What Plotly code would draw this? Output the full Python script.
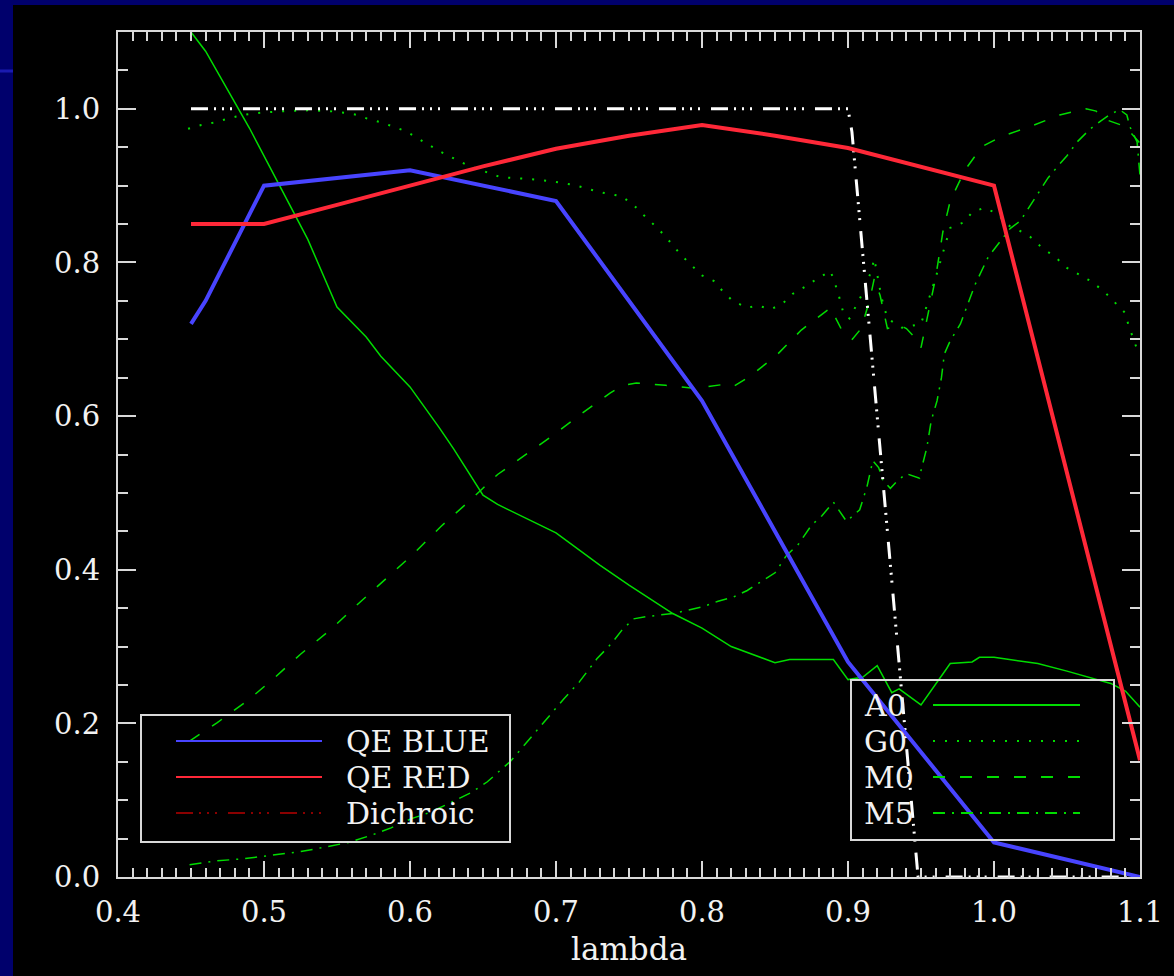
import plotly.graph_objects as go

# ---------------- data ----------------
wl_qe = [0.45, 0.46, 0.50, 0.60, 0.70, 0.80, 0.90, 1.00, 1.10]
qe_blue = [0.72, 0.75, 0.90, 0.92, 0.88, 0.62, 0.28, 0.045, 0.0]

wl_red = [0.45, 0.50, 0.55, 0.60, 0.65, 0.70, 0.75, 0.80, 0.85, 0.90, 0.95, 1.00, 1.10]
qe_red = [0.85, 0.85, 0.875, 0.90, 0.925, 0.948, 0.965, 0.979, 0.965, 0.949, 0.925, 0.90, 0.152]

dich_x = [0.45, 0.90, 0.9027, 0.948, 1.10]
dich_y = [1.0, 1.0, 0.97, 0.0, 0.0]

a0_x = [0.45, 0.46, 0.49, 0.51, 0.53, 0.55, 0.57, 0.58, 0.60, 0.62, 0.63, 0.65, 0.66, 0.70,
        0.73, 0.75, 0.78, 0.80, 0.82, 0.85, 0.86, 0.89, 0.90, 0.91, 0.92, 0.93, 0.935, 0.95,
        0.97, 0.985, 0.99, 1.00, 1.03, 1.05, 1.065, 1.08, 1.09, 1.10]
a0_y = [1.10, 1.075, 0.975, 0.902, 0.83, 0.742, 0.703, 0.678, 0.638, 0.585, 0.557, 0.497, 0.485, 0.448,
        0.406, 0.380, 0.343, 0.324, 0.300, 0.279, 0.283, 0.283, 0.257, 0.260, 0.275, 0.240, 0.245, 0.224,
        0.278, 0.280, 0.286, 0.286, 0.278, 0.268, 0.260, 0.252, 0.242, 0.221]

g0_x = [0.448, 0.457, 0.465, 0.473, 0.481, 0.489, 0.498, 0.514, 0.53, 0.545, 0.555, 0.564, 0.571,
        0.581, 0.588, 0.597, 0.605, 0.62, 0.64, 0.662, 0.679, 0.696, 0.712, 0.729, 0.745, 0.753,
        0.762, 0.770, 0.778, 0.785, 0.793, 0.800, 0.808, 0.814, 0.821, 0.831, 0.838, 0.847, 0.855,
        0.862, 0.872, 0.879, 0.888, 0.893, 0.897, 0.901, 0.91, 0.916, 0.918, 0.923, 0.927, 0.937,
        0.95, 0.96, 0.970, 0.979, 0.985, 0.993, 1.002, 1.009, 1.017, 1.025, 1.033, 1.042, 1.050,
        1.058, 1.066, 1.075, 1.083, 1.090, 1.092, 1.095, 1.098]
g0_y = [0.974, 0.979, 0.982, 0.986, 0.990, 0.993, 0.995, 0.997, 0.998, 0.997, 0.995, 0.992, 0.987,
        0.982, 0.977, 0.971, 0.962, 0.945, 0.926, 0.911, 0.909, 0.906, 0.901, 0.892, 0.886, 0.875,
        0.858, 0.844, 0.827, 0.811, 0.796, 0.783, 0.776, 0.763, 0.750, 0.741, 0.744, 0.739, 0.746,
        0.759, 0.770, 0.779, 0.789, 0.762, 0.733, 0.727, 0.76, 0.789, 0.805, 0.754, 0.727, 0.715,
        0.72, 0.78, 0.845, 0.852, 0.865, 0.871, 0.864, 0.849, 0.842, 0.833, 0.819, 0.807, 0.793,
        0.785, 0.776, 0.763, 0.748, 0.734, 0.719, 0.702, 0.687]

m0_x = [0.449, 0.468, 0.489, 0.507, 0.525, 0.545, 0.563, 0.583, 0.602, 0.621, 0.641, 0.660, 0.679,
        0.698, 0.718, 0.737, 0.746, 0.755, 0.775, 0.795, 0.814, 0.821, 0.833, 0.851, 0.868, 0.888,
        0.896, 0.903, 0.909, 0.915, 0.918, 0.922, 0.927, 0.936, 0.940, 0.948, 0.950, 0.955, 0.960,
        0.965, 0.970, 0.980, 0.988, 0.993, 1.005, 1.025, 1.045, 1.063, 1.070, 1.075, 1.082, 1.090, 1.100]
m0_y = [0.177, 0.201, 0.230, 0.259, 0.290, 0.321, 0.353, 0.387, 0.420, 0.456, 0.490, 0.524, 0.550,
        0.575, 0.604, 0.630, 0.640, 0.643, 0.640, 0.636, 0.641, 0.638, 0.652, 0.679, 0.712, 0.741,
        0.711, 0.700, 0.714, 0.752, 0.779, 0.757, 0.714, 0.718, 0.714, 0.698, 0.689, 0.735, 0.780,
        0.840, 0.880, 0.920, 0.941, 0.952, 0.964, 0.977, 0.992, 1.000, 0.997, 0.987, 0.982, 0.977, 0.955]

m5_x = [0.449, 0.468, 0.487, 0.505, 0.525, 0.542, 0.558, 0.573, 0.587, 0.601, 0.612, 0.626, 0.642,
        0.653, 0.662, 0.669, 0.705, 0.716, 0.728, 0.738, 0.745, 0.753, 0.762, 0.780, 0.801, 0.811,
        0.821, 0.831, 0.840, 0.850, 0.858, 0.866, 0.875, 0.882, 0.890, 0.899, 0.908, 0.913, 0.917,
        0.921, 0.924, 0.929, 0.934, 0.940, 0.949, 0.950, 0.954, 0.957, 0.961, 0.964, 0.966, 0.970,
        0.977, 0.981, 0.987, 0.996, 1.011, 1.018, 1.025, 1.037, 1.044, 1.050, 1.057, 1.066, 1.073,
        1.079, 1.086, 1.091, 1.093, 1.098, 1.100]
m5_y = [0.016, 0.021, 0.024, 0.028, 0.033, 0.039, 0.045, 0.054, 0.064, 0.076, 0.083, 0.095, 0.110,
        0.124, 0.139, 0.151, 0.231, 0.254, 0.284, 0.304, 0.321, 0.336, 0.339, 0.343, 0.352, 0.359,
        0.364, 0.373, 0.384, 0.396, 0.419, 0.433, 0.458, 0.470, 0.488, 0.463, 0.478, 0.508, 0.542,
        0.533, 0.516, 0.506, 0.516, 0.525, 0.519, 0.529, 0.559, 0.594, 0.620, 0.650, 0.681, 0.698,
        0.720, 0.741, 0.771, 0.807, 0.844, 0.854, 0.874, 0.910, 0.926, 0.939, 0.957, 0.974, 0.984,
        0.992, 0.999, 0.992, 0.977, 0.957, 0.913]

x_ticks = [0.4, 0.5, 0.6, 0.7, 0.8, 0.9, 1.0, 1.1]
x_ticklabels = ["0.4", "0.5", "0.6", "0.7", "0.8", "0.9", "1.0", "1.1"]
y_ticks = [0.0, 0.2, 0.4, 0.6, 0.8, 1.0]
y_ticklabels = ["0.0", "0.2", "0.4", "0.6", "0.8", "1.0"]

legend1_labels = ["QE BLUE", "QE RED", "Dichroic"]
legend2_labels = ["A0", "G0", "M0", "M5"]

# ---------------- styling ----------------
W, H = 1174, 976
ML, MR, MT, MB = 118, 34, 32, 99
PW, PH = W - ML - MR, H - MT - MB
NAVY = "#00006c"
GREEN = "#00dc00"
BLUE = "#4844ff"
RED = "#ff2838"
WHITE = "#f2f2f2"
AXC = "#d9d9d9"
FONT = "DejaVu Serif"

DICH_DASH = "17px,6px,2px,6px,2px,6px,2px,11px"
G0_DASH = "2px,10px"
M0_DASH = "12px,15px"
M5_DASH = "12px,7px,2px,7px"


def px(xp, yp):
    return (xp - ML) / PW, (H - MB - yp) / PH


fig = go.Figure()
fig.add_trace(go.Scatter(x=a0_x, y=a0_y, mode="lines", line=dict(color=GREEN, width=1.5), name="A0"))
fig.add_trace(go.Scatter(x=g0_x, y=g0_y, mode="lines", line=dict(color=GREEN, width=2, dash=G0_DASH), name="G0"))
fig.add_trace(go.Scatter(x=m0_x, y=m0_y, mode="lines", line=dict(color=GREEN, width=1.5, dash=M0_DASH), name="M0"))
fig.add_trace(go.Scatter(x=m5_x, y=m5_y, mode="lines", line=dict(color=GREEN, width=1.5, dash=M5_DASH), name="M5"))
fig.add_trace(go.Scatter(x=dich_x, y=dich_y, mode="lines", line=dict(color="white", width=3, dash=DICH_DASH), name="Dichroic"))
fig.add_trace(go.Scatter(x=wl_qe, y=qe_blue, mode="lines", line=dict(color=BLUE, width=4), name="QE BLUE"))
fig.add_trace(go.Scatter(x=wl_red, y=qe_red, mode="lines", line=dict(color=RED, width=4), name="QE RED"))

shapes = []
# black panel on navy page
x0, y0 = px(13, 5)
x1, y1 = px(W + 5, H + 5)
shapes.append(dict(type="rect", xref="paper", yref="paper", x0=x0, y0=y1, x1=x1, y1=y0,
                   fillcolor="black", line=dict(width=0), layer="below"))
# thin blue stripe at left
sx0, sy = px(0, 71)
sx1, _ = px(13, 71)
shapes.append(dict(type="line", xref="paper", yref="paper", x0=sx0, x1=sx1, y0=sy, y1=sy,
                   line=dict(color="#1a1ab0", width=3), layer="below"))

annotations = []

# legend box 1
bx0, by0 = px(141, 715)
bx1, by1 = px(510, 842)
shapes.append(dict(type="rect", xref="paper", yref="paper", x0=bx0, y0=by1, x1=bx1, y1=by0,
                   line=dict(color=AXC, width=2), fillcolor="rgba(0,0,0,0)"))
leg1_styles = [dict(color=BLUE, width=2), dict(color=RED, width=2), dict(color="#8a0000", width=2, dash=DICH_DASH)]
for i, (lab, st) in enumerate(zip(legend1_labels, leg1_styles)):
    yy = 741 + 36 * i
    lx0, ly = px(176, yy)
    lx1, _ = px(322, yy)
    shapes.append(dict(type="line", xref="paper", yref="paper", x0=lx0, x1=lx1, y0=ly, y1=ly, line=st))
    tx, ty = px(344, yy)
    annotations.append(dict(xref="paper", yref="paper", x=tx, y=ty, text=lab, showarrow=False,
                            xanchor="left", yanchor="middle",
                            font=dict(family=FONT, size=30, color=WHITE)))

# legend box 2
bx0, by0 = px(851, 680)
bx1, by1 = px(1114, 840)
shapes.append(dict(type="rect", xref="paper", yref="paper", x0=bx0, y0=by1, x1=bx1, y1=by0,
                   line=dict(color=AXC, width=2), fillcolor="rgba(0,0,0,0)"))
leg2_styles = [dict(color=GREEN, width=2), dict(color=GREEN, width=2, dash=G0_DASH),
               dict(color=GREEN, width=2, dash=M0_DASH), dict(color=GREEN, width=2, dash=M5_DASH)]
for i, (lab, st) in enumerate(zip(legend2_labels, leg2_styles)):
    yy = 705 + 36 * i
    lx0, ly = px(933, yy)
    lx1, _ = px(1080, yy)
    shapes.append(dict(type="line", xref="paper", yref="paper", x0=lx0, x1=lx1, y0=ly, y1=ly, line=st))
    tx, ty = px(862, yy)
    annotations.append(dict(xref="paper", yref="paper", x=tx, y=ty, text=lab, showarrow=False,
                            xanchor="left", yanchor="middle",
                            font=dict(family=FONT, size=30, color=WHITE)))

axis_common = dict(showline=True, linecolor=AXC, linewidth=2, mirror="ticks", ticks="inside",
                   tickcolor=AXC, tickwidth=2, showgrid=False, zeroline=False,
                   tickfont=dict(family=FONT, size=29, color=WHITE))

fig.update_layout(
    width=W, height=H,
    margin=dict(l=ML, r=MR, t=MT, b=MB, autoexpand=False),
    paper_bgcolor=NAVY, plot_bgcolor="black",
    showlegend=False,
    shapes=shapes, annotations=annotations,
    xaxis=dict(range=[0.4, 1.1], tickvals=x_ticks, ticktext=x_ticklabels, ticklen=16,
               minor=dict(dtick=0.01, tick0=0.4, ticklen=9, tickwidth=2, tickcolor=AXC, ticks="inside", showgrid=False),
               ticklabelstandoff=8,
               title=dict(text="lambda", font=dict(family=FONT, size=31, color=WHITE), standoff=11),
               **axis_common),
    yaxis=dict(range=[0, 1.1], tickvals=y_ticks, ticktext=y_ticklabels, ticklen=18,
               minor=dict(dtick=0.05, tick0=0, ticklen=10, tickwidth=2, tickcolor=AXC, ticks="inside", showgrid=False),
               ticklabelstandoff=10,
               **axis_common),
)

fig.write_html("out.html")
